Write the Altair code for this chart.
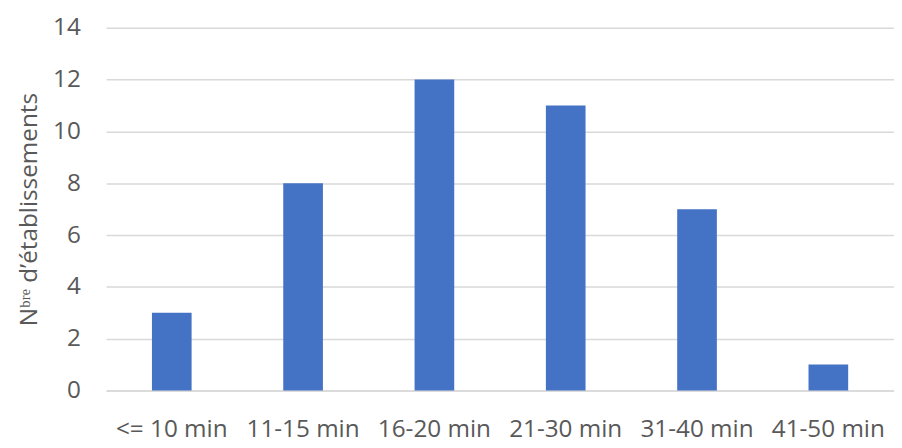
import altair as alt
import pandas as pd

categories = ["<= 10 min", "11-15 min", "16-20 min", "21-30 min", "31-40 min", "41-50 min"]
counts = [3, 8, 12, 11, 7, 1]

df = pd.DataFrame({"cat": categories, "n": counts})

FONT = "Open Sans"
TXT = "#595959"

chart = alt.Chart(df).mark_bar(color="#4472C4").encode(
    x=alt.X("cat:N", sort=categories, title=None,
            scale=alt.Scale(paddingInner=0.698, paddingOuter=0.349),
            axis=alt.Axis(labelAngle=0, labelFont=FONT, labelFontSize=24.5, labelColor=TXT,
                          ticks=False, domainColor="#D9D9D9", domainWidth=1.5,
                          labelPadding=27)),
    y=alt.Y("n:Q", title="Nᵇʳᵉ d’établissements",
            scale=alt.Scale(domain=[0, 14]),
            axis=alt.Axis(values=[0, 2, 4, 6, 8, 10, 12, 14], labelFont=FONT, labelFontSize=24.5,
                          labelColor=TXT, ticks=False, domain=False, gridColor="#D9D9D9",
                          gridWidth=1.5, labelPadding=26, titleFont=FONT, titleFontSize=24.5,
                          titleFontWeight="normal", titleColor=TXT, titlePadding=11)),
).properties(
    width=795, height=366,
    autosize=alt.AutoSizeParams(type="none"),
    padding={"left": 99, "top": 18, "right": 0, "bottom": 55},
).configure_view(stroke=None)

chart.save("out.html", embed_options={"renderer": "svg", "actions": False})
